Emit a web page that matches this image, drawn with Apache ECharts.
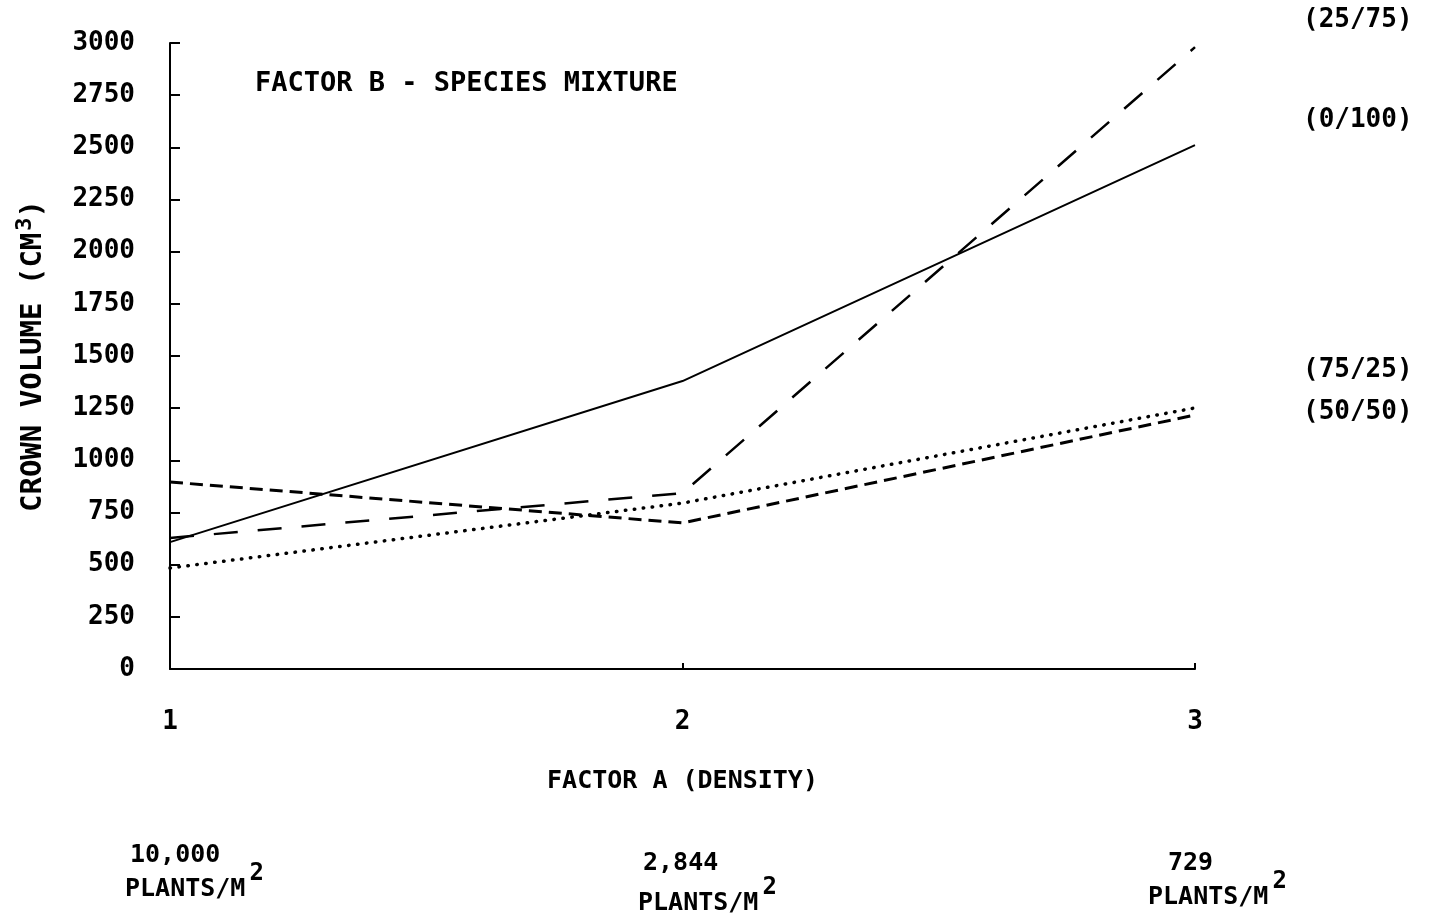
<!DOCTYPE html>
<html>
<head>
<meta charset="utf-8">
<title>Crown volume</title>
<script src="https://cdn.jsdelivr.net/npm/echarts@6/dist/echarts.min.js"></script>
<style>
html,body{margin:0;padding:0;background:#fff;}
#chart{width:1436px;height:922px;}
</style>
</head>
<body>
<div id="chart"></div>
<script>
// factor A levels (density)
var levels = [1, 2, 3];
var densities = ['10,000', '2,844', '729'];

// factor B - species mixture, crown volume (cm3)
var mix0_100 = [608, 1380, 2511];
var mix25_75 = [628, 843, 2980];
var mix50_50 = [896, 700, 1217];
var mix75_25 = [484, 795, 1251];

var yTicks = [0, 250, 500, 750, 1000, 1250, 1500, 1750, 2000, 2250, 2500, 2750, 3000];

var FONT = '"DejaVu Sans Mono", monospace';
var BOLD = 'bold 25px ' + FONT;

function pairs(vals){
	var out = [];
	for (var i = 0; i < levels.length; i++) {
		out.push([levels[i], vals[i]]);
	}
	return out;
}

function makeSeries(name, vals, lineStyle, labelOffset){
	return {
		name: name,
		type: 'line',
		data: pairs(vals),
		symbol: 'none',
		silent: true,
		lineStyle: lineStyle,
		endLabel: {
			show: true,
			formatter: name,
			offset: labelOffset,
			color: '#000',
			fontFamily: FONT,
			fontWeight: 'bold',
			fontSize: 26
		}
	};
}

function plantsText(){
	return {
		text: '{t|PLANTS/M}{s|2}',
		rich: {
			t: { font: BOLD, fill: '#000', verticalAlign: 'bottom' },
			s: { font: 'bold 24px ' + FONT, fill: '#000', verticalAlign: 'bottom', padding: [0, 0, 16, 4] }
		}
	};
}

var chart = echarts.init(document.getElementById('chart'));

var option = {
	backgroundColor: '#fff',
	animation: false,
	textStyle: { fontFamily: FONT, color: '#000' },
	grid: { left: 170, right: 241, top: 43, bottom: 253, outerBoundsMode: 'none', containLabel: false },
	xAxis: {
		type: 'value',
		min: 1,
		max: 3,
		interval: 1,
		name: 'FACTOR A (DENSITY)',
		nameLocation: 'middle',
		nameGap: 100,
		nameTextStyle: { fontFamily: FONT, fontWeight: 'bold', fontSize: 25, color: '#000' },
		axisLine: { lineStyle: { color: '#000', width: 2 } },
		axisTick: { inside: true, length: 6, lineStyle: { color: '#000', width: 2 } },
		axisLabel: { margin: 40, fontFamily: FONT, fontWeight: 'bold', fontSize: 26, color: '#000' },
		splitLine: { show: false }
	},
	yAxis: {
		type: 'value',
		min: 0,
		max: 3000,
		interval: 250,
		name: '{t|CROWN VOLUME (CM}{s|3}{t|)}',
		nameLocation: 'middle',
		nameGap: 118,
		nameTextStyle: {
			rich: {
				t: { fontFamily: FONT, fontWeight: 'bold', fontSize: 29, color: '#000' },
				s: { fontFamily: FONT, fontWeight: 'bold', fontSize: 22, color: '#000', verticalAlign: 'bottom', padding: [0, 0, 16, 2] }
			}
		},
		axisLine: { show: true, lineStyle: { color: '#000', width: 2 } },
		axisTick: { show: true, inside: true, length: 10, lineStyle: { color: '#000', width: 2 } },
		axisLabel: {
			margin: 35,
			fontFamily: FONT,
			fontWeight: 'bold',
			fontSize: 26,
			color: '#000',
			formatter: function(v){ return yTicks.indexOf(v) >= 0 ? String(v) : ''; }
		},
		splitLine: { show: false }
	},
	series: [
		makeSeries('(0/100)', mix0_100, { color: '#000', width: 2, type: 'solid' }, [100, -25]),
		makeSeries('(25/75)', mix25_75, { color: '#000', width: 2.5, type: [24, 20] }, [100, -27]),
		makeSeries('(75/25)', mix75_25, { color: '#000', width: 3.5, type: [0.5, 8.5], cap: 'round' }, [100, -38]),
		makeSeries('(50/50)', mix50_50, { color: '#000', width: 3, type: [13, 7] }, [100, -3])
	],
	graphic: [
		{ type: 'text', left: 255, top: 70, style: { text: 'FACTOR B - SPECIES MIXTURE', font: 'bold 27px ' + FONT, fill: '#000' } },
		{ type: 'text', left: 130, top: 843, style: { text: densities[0], font: BOLD, fill: '#000' } },
		{ type: 'text', left: 125, top: 862, style: plantsText() },
		{ type: 'text', left: 643, top: 851, style: { text: densities[1], font: BOLD, fill: '#000' } },
		{ type: 'text', left: 638, top: 876, style: plantsText() },
		{ type: 'text', left: 1168, top: 851, style: { text: densities[2], font: BOLD, fill: '#000' } },
		{ type: 'text', left: 1148, top: 870, style: plantsText() }
	]
};

chart.setOption(option);
</script>
</body>
</html>
